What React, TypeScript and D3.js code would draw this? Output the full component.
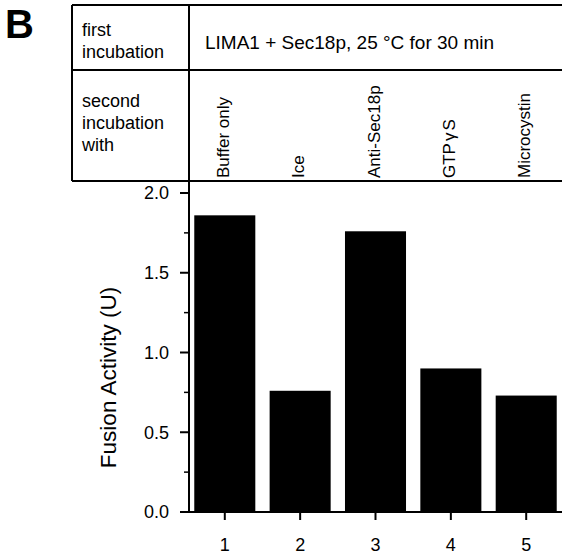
import React from "react";
import * as d3 from "d3";

const categories = ["1", "2", "3", "4", "5"];
const treatments = ["Buffer only", "Ice", "Anti-Sec18p", "GTPγS", "Microcystin"];
const values = [1.86, 0.76, 1.76, 0.9, 0.73];
const yMajorTicks = [0, 0.5, 1.0, 1.5, 2.0];
const yMinorTicks = [0.25, 0.75, 1.25, 1.75];
const firstIncubation = "LIMA1 + Sec18p, 25 °C for 30 min";

const W = 562;
const H = 554;
const FONT = "'Liberation Sans', Arial, Helvetica, sans-serif";

function Label({ t }: { t: string }) {
  if (t.includes("γ")) {
    const [a, b] = t.split("γ");
    return (
      <>
        {a}
        <tspan dx={2}>γ</tspan>
        <tspan dx={2}>{b}</tspan>
      </>
    );
  }
  return <>{t}</>;
}

export default function App() {
  const axisX = 189;
  const tableLeft = 72;
  const tableTop = 5;
  const tableMid = 70;
  const tableBottom = 181;
  const baseY = 512;

  const x = d3
    .scaleBand<string>()
    .domain(categories)
    .range([axisX, W])
    .paddingInner(0.19)
    .paddingOuter(0.07);
  const y = d3.scaleLinear().domain([0, 2]).range([baseY, 193]);

  return (
    <svg
      width={W}
      height={H}
      style={{ position: "absolute", left: 0, top: 0, background: "#fff" }}
      fontFamily={FONT}
    >
      <rect x={0} y={0} width={W} height={H} fill="#fff" />
      {/* Panel letter */}
      <text x={5} y={38} fontSize={40} fontWeight="bold" fill="#000">
        B
      </text>

      {/* Table */}
      <g stroke="#000" strokeWidth={2} fill="none">
        <line x1={tableLeft} y1={tableTop} x2={W} y2={tableTop} />
        <line x1={tableLeft} y1={tableMid} x2={W} y2={tableMid} />
        <line x1={tableLeft} y1={tableBottom} x2={W} y2={tableBottom} />
        <line x1={tableLeft} y1={tableTop} x2={tableLeft} y2={tableBottom} />
      </g>
      <g fontSize={18} fill="#000">
        <text x={82} y={36}>first</text>
        <text x={82} y={58}>incubation</text>
        <text x={82} y={107}>second</text>
        <text x={82} y={129}>incubation</text>
        <text x={82} y={151}>with</text>
        <text x={205} y={49} fontSize={19}>{firstIncubation}</text>
      </g>
      <g fontSize={17} fill="#000">
        {treatments.map((t, i) => {
          const cx = (x(categories[i]) as number) + x.bandwidth() / 2 + 4;
          return (
            <text key={t} transform={`translate(${cx},178) rotate(-90)`}>
              <Label t={t} />
            </text>
          );
        })}
      </g>

      {/* Bars */}
      {values.map((v, i) => (
        <rect
          key={categories[i]}
          x={x(categories[i])}
          y={y(v)}
          width={x.bandwidth()}
          height={y(0) - y(v)}
          fill="#000"
        />
      ))}

      {/* Y axis */}
      <line x1={axisX} y1={tableTop} x2={axisX} y2={baseY} stroke="#000" strokeWidth={2} />
      {yMajorTicks.map((t) => (
        <g key={t}>
          <line x1={axisX - 9} y1={y(t)} x2={axisX} y2={y(t)} stroke="#000" strokeWidth={2} />
          <text
            x={axisX - 20}
            y={y(t)}
            dy="0.36em"
            textAnchor="end"
            fontSize={18}
            fill="#000"
          >
            {d3.format(".1f")(t)}
          </text>
        </g>
      ))}
      {yMinorTicks.map((t) => (
        <line key={t} x1={axisX - 5} y1={y(t)} x2={axisX} y2={y(t)} stroke="#000" strokeWidth={1.5} />
      ))}
      <text
        transform={`translate(116,${(y(0) + y(2)) / 2 + 25}) rotate(-90)`}
        textAnchor="middle"
        fontSize={22.5}
        fill="#000"
      >
        Fusion Activity (U)
      </text>

      {/* X axis */}
      <line x1={axisX} y1={baseY} x2={W} y2={baseY} stroke="#000" strokeWidth={2} />
      {categories.map((c) => {
        const cx = (x(c) as number) + x.bandwidth() / 2;
        return (
          <g key={c}>
            <line x1={cx} y1={baseY} x2={cx} y2={baseY + 8} stroke="#000" strokeWidth={2} />
            <text x={cx} y={551} textAnchor="middle" fontSize={18} fill="#000">
              {c}
            </text>
          </g>
        );
      })}
    </svg>
  );
}
